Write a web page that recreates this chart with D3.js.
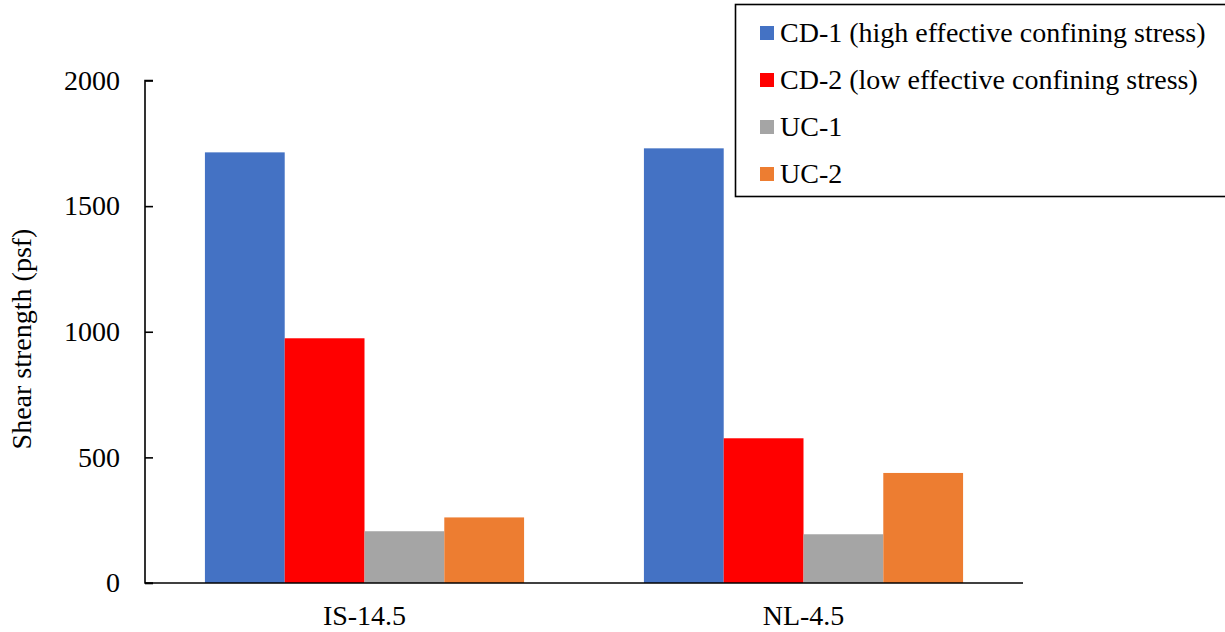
<!DOCTYPE html>
<html>
<head>
<meta charset="utf-8">
<script src="https://cdn.jsdelivr.net/npm/d3@7/dist/d3.min.js"></script>
<style>
  html, body { margin: 0; padding: 0; background: #fff; }
  svg { display: block; }
</style>
</head>
<body>
<svg id="chart" width="1225" height="632"></svg>
<script>
// Shear strength by sample and test type
const categories = ["IS-14.5", "NL-4.5"];
const seriesNames = [
  "CD-1 (high effective confining stress)",
  "CD-2 (low effective confining stress)",
  "UC-1",
  "UC-2"
];
const seriesColors = ["#4472C4", "#FF0000", "#A5A5A5", "#ED7D31"];
const cd1 = [1714, 1730];
const cd2 = [974, 576];
const uc1 = [206, 194];
const uc2 = [261, 438];
const yTicks = [0, 500, 1000, 1500, 2000];

const seriesValues = [cd1, cd2, uc1, uc2];

const svg = d3.select("#chart")
  .attr("font-family", "'Liberation Serif', 'Times New Roman', Tinos, 'DejaVu Serif', serif");
const plotLeft = 145, plotRight = 1023, plotTop = 80.5, plotBottom = 583;
const fontSize = 28;

const y = d3.scaleLinear().domain([0, 2000]).range([plotBottom, plotTop]);
const x0 = d3.scaleBand().domain(categories).range([plotLeft, plotRight])
  .paddingInner(0.273).paddingOuter(0.1365);
const x1 = d3.scaleBand().domain(d3.range(seriesNames.length)).range([0, x0.bandwidth()]);

// Bars
categories.forEach((cat, ci) => {
  const g = svg.append("g").attr("transform", `translate(${x0(cat)},0)`);
  seriesValues.forEach((vals, si) => {
    g.append("rect")
      .attr("x", x1(si))
      .attr("y", y(vals[ci]))
      .attr("width", x1.bandwidth())
      .attr("height", y(0) - y(vals[ci]))
      .attr("fill", seriesColors[si]);
  });
});

// Y axis with inward ticks
const yAxis = d3.axisRight(y).tickValues(yTicks).tickSize(8).tickFormat("");
const yg = svg.append("g").attr("transform", `translate(${plotLeft},0)`).call(yAxis);
yg.select(".domain").attr("stroke", "#000").attr("stroke-width", 1.6)
  .attr("d", `M8,${plotTop}H0V${plotBottom}H8`);
yg.selectAll(".tick line").attr("stroke", "#000").attr("stroke-width", 1.6);

svg.append("g").selectAll("text").data(yTicks).join("text")
  .attr("x", 120).attr("y", d => y(d))
  .attr("dy", "0.33em")
  .attr("text-anchor", "end")
  .attr("font-size", fontSize)
  .text(d => d);

// X axis baseline
const xAxis = d3.axisBottom(x0).tickSize(0).tickFormat("");
const xg = svg.append("g").attr("transform", `translate(0,${plotBottom})`).call(xAxis);
xg.select(".domain").attr("stroke", "#000").attr("stroke-width", 1.6)
  .attr("d", `M${plotLeft},0H${plotRight}`);

svg.append("g").selectAll("text").data(categories).join("text")
  .attr("x", d => x0(d) + x0.bandwidth() / 2)
  .attr("y", 625)
  .attr("text-anchor", "middle")
  .attr("font-size", fontSize)
  .text(d => d);

// Y axis title
svg.append("text")
  .attr("transform", `translate(31,339) rotate(-90)`)
  .attr("text-anchor", "middle")
  .attr("font-size", fontSize)
  .text("Shear strength (psf)");

// Legend
const lg = svg.append("g");
lg.append("rect")
  .attr("x", 735.5).attr("y", 4.5)
  .attr("width", 500).attr("height", 192)
  .attr("fill", "#fff").attr("stroke", "#000").attr("stroke-width", 1.6);
const rowY = [33, 80, 127, 174];
seriesNames.forEach((name, i) => {
  lg.append("rect")
    .attr("x", 760).attr("y", rowY[i] - 7)
    .attr("width", 14).attr("height", 14)
    .attr("fill", seriesColors[i]);
  lg.append("text")
    .attr("x", 780).attr("y", rowY[i])
    .attr("dy", "0.33em")
    .attr("font-size", fontSize)
    .text(name);
});
</script>
</body>
</html>
